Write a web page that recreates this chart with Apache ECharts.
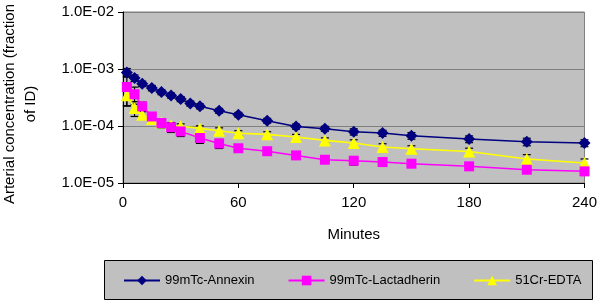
<!DOCTYPE html>
<html><head><meta charset="utf-8">
<script src="https://cdn.jsdelivr.net/npm/echarts@6/dist/echarts.min.js"></script>
<style>html,body{margin:0;padding:0;background:#fff}#c{width:600px;height:301px}</style>
</head><body><div id="c"></div>
<script>
const seriesNames = ['99mTc-Annexin', '99mTc-Lactadherin', '51Cr-EDTA'];
const annexinTime = [2,6,10,15,20,25,30,35,40,50,60,75,90,105,120,135,150,180,210,240];
const annexinValue = [8.7e-4,6.95e-4,5.52e-4,4.64e-4,3.95e-4,3.44e-4,2.98e-4,2.49e-4,2.22e-4,1.85e-4,1.58e-4,1.24e-4,9.8e-5,8.97e-5,7.94e-5,7.5e-5,6.76e-5,5.9e-5,5.3e-5,5.03e-5];
const annexinErr = [1.5e-4,0.9e-4,0.6e-4,0.5e-4,0.4e-4,0.35e-4,0.3e-4,0.25e-4,0.22e-4,0.18e-4,0.15e-4,0.12e-4,0.1e-4,0.09e-4,0.1e-4,0.09e-4,0.09e-4,0.08e-4,0.08e-4,0.07e-4];
const otherTime = [2,6,10,15,20,25,30,40,50,60,75,90,105,120,135,150,180,210,240];
const lactValue = [4.83e-4,3.61e-4,2.21e-4,1.47e-4,1.13e-4,9.5e-5,8.04e-5,6.16e-5,4.93e-5,4.07e-5,3.61e-5,3.05e-5,2.56e-5,2.46e-5,2.33e-5,2.18e-5,1.96e-5,1.71e-5,1.6e-5];
const lactErr = [2.6e-4,1.2e-4,0.4e-4,0.25e-4,0.2e-4,0.18e-4,0.15e-4,0.12e-4,0.09e-4,0.05e-4,0.04e-4,0.03e-4,0.03e-4,0.04e-4,0.03e-4,0.02e-4,0.02e-4,0.02e-4,0.02e-4];
const edtaValue = [3.47e-4,2.07e-4,1.58e-4,1.33e-4,1.16e-4,1.03e-4,9.9e-5,9.07e-5,8.28e-5,7.48e-5,7.13e-5,6.42e-5,5.59e-5,5.03e-5,4.28e-5,4.0e-5,3.58e-5,2.64e-5,2.24e-5];
const edtaErr = [1.2e-4,0.6e-4,0.2e-4,0.15e-4,0.15e-4,0.12e-4,0.1e-4,0.1e-4,0.1e-4,0.08e-4,0.08e-4,0.07e-4,0.06e-4,0.07e-4,0.06e-4,0.05e-4,0.05e-4,0.05e-4,0.04e-4];
const xTicks = [0, 60, 120, 180, 240];
const yTicks = ['1.0E-05','1.0E-04','1.0E-03','1.0E-02'];

const FONT = '"Liberation Sans", Arial, sans-serif';
function pts(t, v){ return t.map((x,i)=>[x, v[i]]); }
function errPts(t, v, e){ return t.map((x,i)=>[x, v[i], e[i]]); }
function errRender(params, api){
  const x = api.value(0), v = api.value(1), e = api.value(2);
  const lo = Math.max(v - e, 1.01e-5), hi = v + e;
  const p1 = api.coord([x, lo]), p2 = api.coord([x, hi]);
  const w = 4;
  const st = {stroke:'#000', lineWidth:1.2};
  return {type:'group', children:[
    {type:'line', shape:{x1:p1[0], y1:p1[1], x2:p2[0], y2:p2[1]}, style:st},
    {type:'line', shape:{x1:p1[0]-w, y1:p1[1], x2:p1[0]+w, y2:p1[1]}, style:st},
    {type:'line', shape:{x1:p2[0]-w, y1:p2[1], x2:p2[0]+w, y2:p2[1]}, style:st}
  ]};
}
const chart = echarts.init(document.getElementById('c'), null, {renderer:'canvas'});
const colors = ['#000080', '#FF00FF', '#FFFF00'];
chart.setOption({
  animation:false,
  textStyle:{fontFamily:FONT},
  grid:{left:123, right:14, top:12, bottom:118, show:true, backgroundColor:'#C0C0C0', borderColor:'#808080', borderWidth:1},
  xAxis:{type:'value', min:0, max:240, interval:60,
    axisLine:{show:true, lineStyle:{color:'#000', width:1}},
    axisTick:{show:true, length:5, lineStyle:{color:'#000'}},
    axisLabel:{fontSize:15, color:'#000', margin:12, fontFamily:FONT, formatter:v=> xTicks.includes(v)? String(v):''},
    splitLine:{show:false},
    name:'Minutes', nameLocation:'middle', nameGap:44,
    nameTextStyle:{fontSize:15, color:'#000', fontFamily:FONT}
  },
  yAxis:{type:'log', logBase:10, min:1e-5, max:1e-2,
    axisLine:{show:true, lineStyle:{color:'#000', width:1}},
    axisTick:{show:true, length:5, lineStyle:{color:'#000'}},
    minorTick:{show:false},
    axisLabel:{fontSize:15, color:'#000', margin:9, fontFamily:FONT,
      formatter:v=>{ const e = Math.round(Math.log10(v)); return yTicks[e+5] || ''; }},
    splitLine:{show:true, lineStyle:{color:'#808080', width:1}}
  },
  legend:{show:true, orient:'horizontal', left:118, top:269, width:480, itemGap:33, itemWidth:36, itemHeight:12,
    textStyle:{fontSize:13, color:'#000', fontFamily:FONT}, data:seriesNames},
  graphic:[
    {type:'rect', shape:{x:104.5, y:260.5, width:488, height:39}, style:{fill:'#C0C0C0', stroke:'#000', lineWidth:1}, z:-10, silent:true},
    {type:'text', x:20, y:104, rotation:Math.PI/2, style:{text:'Arterial concentration (fraction\nof ID)', fontSize:15, fontFamily:FONT, fill:'#000', align:'center', verticalAlign:'middle', lineHeight:21}}
  ],
  series:[
    {type:'custom', name:'err1', renderItem:errRender, data:errPts(annexinTime, annexinValue, annexinErr), z:1, silent:true, encode:{x:0,y:1}},
    {type:'custom', name:'err2', renderItem:errRender, data:errPts(otherTime, lactValue, lactErr), z:1, silent:true, encode:{x:0,y:1}},
    {type:'custom', name:'err3', renderItem:errRender, data:errPts(otherTime, edtaValue, edtaErr), z:1, silent:true, encode:{x:0,y:1}},
    {type:'line', name:seriesNames[0], data:pts(annexinTime, annexinValue), symbol:'diamond', symbolSize:12,
      lineStyle:{color:colors[0], width:1.5}, itemStyle:{color:colors[0]}, z:4},
    {type:'line', name:seriesNames[1], data:pts(otherTime, lactValue), symbol:'rect', symbolSize:10,
      lineStyle:{color:colors[1], width:1.5}, itemStyle:{color:colors[1]}, z:3},
    {type:'line', name:seriesNames[2], data:pts(otherTime, edtaValue), symbol:'triangle', symbolSize:12,
      lineStyle:{color:colors[2], width:1.6}, itemStyle:{color:colors[2]}, z:2}
  ]
});
</script></body></html>
